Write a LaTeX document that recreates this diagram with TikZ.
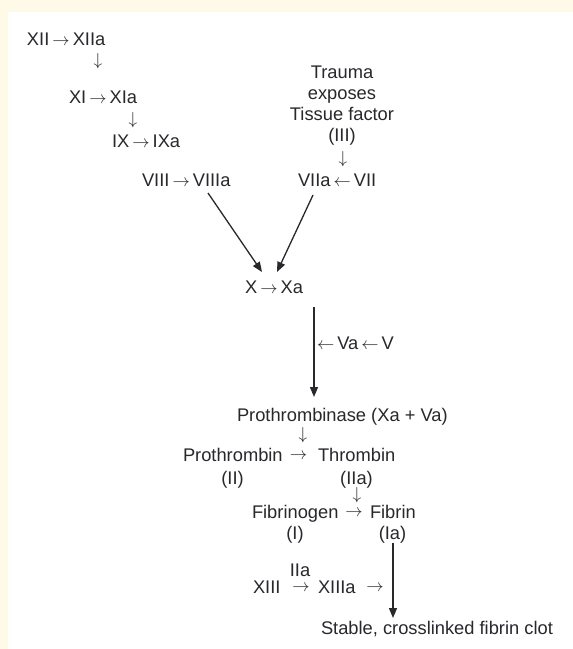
\documentclass[tikz,border=0pt]{standalone}
\usepackage{fontspec}
\setmainfont{Liberation Sans}
\usetikzlibrary{arrows.meta}
\definecolor{cream}{RGB}{255,250,232}
\definecolor{ink}{RGB}{40,40,45}
\begin{document}
\begin{tikzpicture}[x=1pt,y=-1pt,
  lbl/.style={inner sep=0pt, outer sep=0pt, text=ink, font=\fontsize{18.3}{21}\selectfont},
  lw/.style={lbl, anchor=base west},
  lc/.style={lbl, anchor=base},
  ar/.style={lbl, anchor=center},
  dn/.style={lbl, anchor=base},
  conn/.style={draw=ink, line width=1.3pt, -{Triangle[length=10pt,width=8pt]}}]
\fill[cream] (0,0) rectangle (573,649);
\fill[white] (8,12) rectangle (573,649);
\useasboundingbox (0,0) rectangle (573,649);
% intrinsic pathway
\node[lw] (xii) at (27,45) {XII\,$\rightarrow$\,XIIa};
\node[dn] (d1) at (98,65.5) {\smash{$\downarrow$}};
\node[lw] (xi) at (69,103) {XI\,$\rightarrow$\,XIa};
\node[dn] (d2) at (133,124.5) {\smash{$\downarrow$}};
\node[lw] (ix) at (112,147) {IX\,$\rightarrow$\,IXa};
\node[lw] (viii) at (142,186) {VIII\,$\rightarrow$\,VIIIa};
% extrinsic pathway
\node[lc] (t1) at (342,78) {Trauma};
\node[lc] (t2) at (342,99) {exposes};
\node[lc] (t3) at (342,120) {Tissue factor};
\node[lc] (t4) at (342,141) {(III)};
\node[dn] (d3) at (343,163.5) {\smash{$\downarrow$}};
\node[lw] (vii) at (298,186) {VIIa\,$\leftarrow$\,VII};
% common pathway
\node[lw] (x) at (245,293) {X\,$\rightarrow$\,Xa};
\node[lw] (va) at (317,349) {$\leftarrow$\,Va\,$\leftarrow$\,V};
\node[lw] (pase) at (237,421) {Prothrombinase (Xa + Va)};
\node[dn] (d4) at (303,439.5) {\smash{$\downarrow$}};
\node[lw] (pro) at (183,461) {Prothrombin};
\node[ar] (a1) at (298.5,456.5) {$\rightarrow$};
\node[lw] (thr) at (318,461) {Thrombin};
\node[lc] (ii) at (232.5,484) {(II)};
\node[lc] (iia) at (356.5,484) {(IIa)};
\node[dn] (d5) at (357,499.5) {\smash{$\downarrow$}};
\node[lw] (fbg) at (252,518) {Fibrinogen};
\node[ar] (a2) at (354,513.5) {$\rightarrow$};
\node[lw] (fib) at (370,518) {Fibrin};
\node[lc] (i) at (295,539) {(I)};
\node[lc] (ia) at (392.5,539) {(Ia)};
\node[lc] (iia2) at (300,576) {\smash{IIa}};
\node[lw] (xiii) at (253,593) {XIII};
\node[ar] (a3) at (301,588.5) {$\rightarrow$};
\node[lw] (xiiia) at (318,593) {XIIIa};
\node[ar] (a4) at (375,588.5) {$\rightarrow$};
\node[lw] (clot) at (321,634) {Stable, crosslinked fibrin clot};
% connectors
\coordinate (c1s) at (208,193);
\coordinate (c1e) at (262,272);
\coordinate (c2s) at (313,195);
\coordinate (c2e) at (277,272);
\coordinate (c3s) at (314,307);
\coordinate (c3e) at (314,397);
\coordinate (c4s) at (393,543);
\coordinate (c4e) at (393,618);
\draw[conn] (c1s) -- (c1e);
\draw[conn] (c2s) -- (c2e);
\draw[conn] (c3s) -- (c3e);
\draw[conn] (c4s) -- (c4e);
\end{tikzpicture}
\end{document}
